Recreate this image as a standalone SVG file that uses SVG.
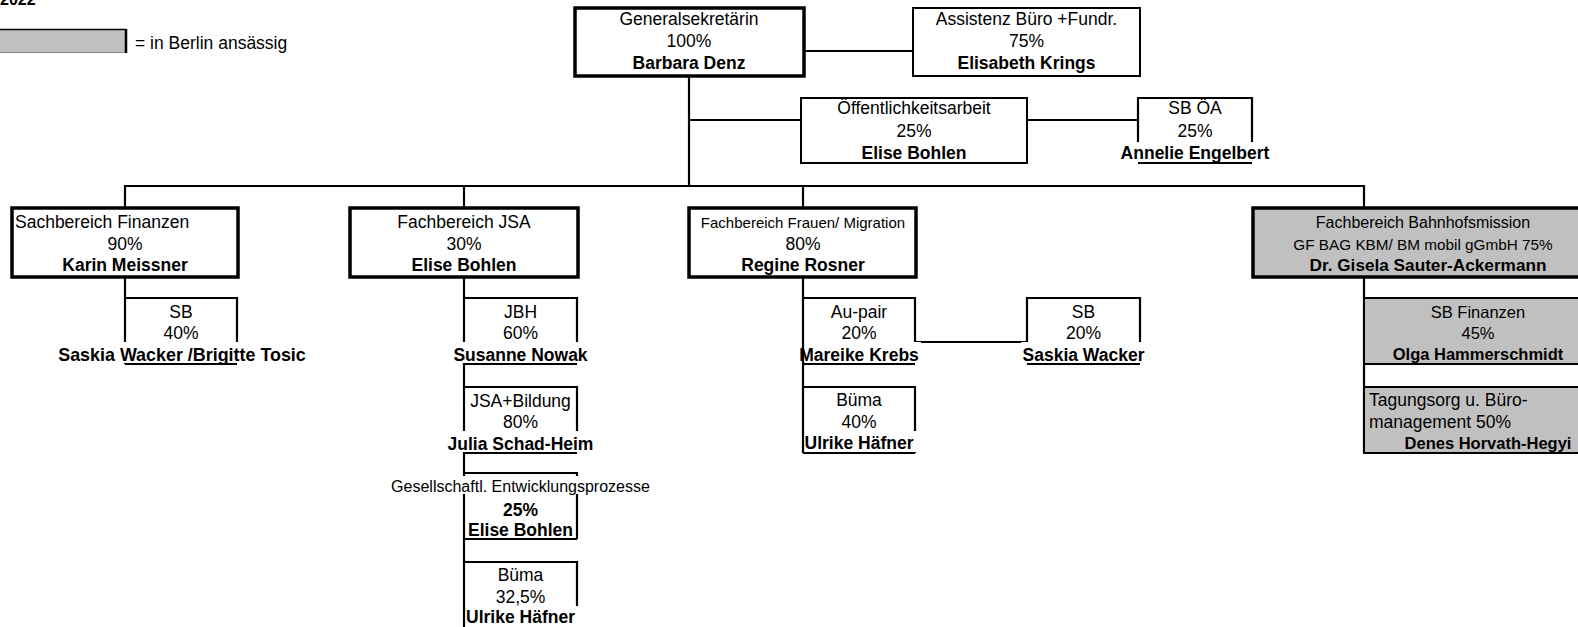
<svg xmlns="http://www.w3.org/2000/svg" width="1578" height="627" viewBox="0 0 1578 627">
<style>
.t{font-family:"Liberation Sans",Arial,sans-serif;font-size:17.5px;fill:#000;text-anchor:middle}
.l{text-anchor:start}
.b{font-weight:bold}
.s16{font-size:16px}
.s15{font-size:15px}
.g{font-size:16.5px}
.thick{fill:#fff;stroke:#000;stroke-width:3.5}
.gthick{fill:#c0c0c0;stroke:#000;stroke-width:3.5}
.gthin{fill:#c0c0c0;stroke:#000;stroke-width:2}
.thin{fill:#fff;stroke:#000;stroke-width:2}
.ln{fill:none;stroke:#000;stroke-width:2.2}
.bg{fill:#fff}
</style>
<rect width="1578" height="627" fill="#fff"/>
<g id="legend">
<text class="t l b s16" x="0" y="5">2022</text>
<rect x="-2" y="29.5" width="128" height="23" fill="#c0c0c0"/>
<path d="M-2,29.5 H126" stroke="#000" stroke-width="1.5"/>
<path d="M-2,52.5 H126" stroke="#8a8a8a" stroke-width="1"/>
<path d="M126,29 V53" stroke="#000" stroke-width="2.5"/>
<text class="t l" x="135" y="49">= in Berlin ansässig</text>
</g>
<g id="connectors">
<path class="ln" d="M804,51 H913"/>
<path class="ln" d="M689,76 V186"/>
<path class="ln" d="M689,120 H801"/>
<path class="ln" d="M1027,120 H1138"/>
<path class="ln" d="M125,209 V186 H1364 V209"/>
<path class="ln" d="M464,186 V209"/>
<path class="ln" d="M803,186 V209"/>
<path class="ln" d="M125,277 V364"/>
<path class="ln" d="M464,277 V627"/>
<path class="ln" d="M803,277 V453"/>
<path class="ln" d="M1364,277 V453"/>
<path class="ln" d="M915,342 H1027"/>
</g>
<g id="n-general">
<rect class="thick" x="575" y="8" width="229" height="68"/>
<text class="t" x="689" y="25">Generalsekretärin</text>
<text class="t" x="689" y="47">100%</text>
<text class="t b" x="689" y="69">Barbara Denz</text>
</g>
<g id="n-assistenz">
<rect class="thin" x="913" y="8" width="227" height="68"/>
<text class="t" x="1026.5" y="25">Assistenz Büro +Fundr.</text>
<text class="t" x="1026.5" y="47">75%</text>
<text class="t b" x="1026.5" y="69">Elisabeth Krings</text>
</g>
<g id="n-oeff">
<rect class="thin" x="801" y="98" width="226" height="65"/>
<text class="t" x="914" y="114">Öffentlichkeitsarbeit</text>
<text class="t" x="914" y="136.5">25%</text>
<text class="t b" x="914" y="159">Elise Bohlen</text>
</g>
<g id="n-sboea">
<path class="ln" d="M1138,142 V98 H1252 V142 M1138,163 H1252" stroke-width="2"/>
<rect class="bg" x="1120" y="142" width="150" height="19.5"/>
<text class="t" x="1195" y="114">SB ÖA</text>
<text class="t" x="1195" y="136.5">25%</text>
<text class="t b" x="1195" y="159">Annelie Engelbert</text>
</g>
<g id="n-sachbereich">
<rect class="thick" x="12" y="208" width="226" height="69"/>
<text class="t l" x="15" y="228">Sachbereich Finanzen</text>
<text class="t" x="125" y="249.5">90%</text>
<text class="t b" x="125" y="271">Karin Meissner</text>
</g>
<g id="n-sb40">
<path class="ln" d="M125,298 H237 V342 M125,364 H237" stroke-width="2"/>
<rect class="bg" x="56" y="342" width="252" height="21"/>
<text class="t" x="181" y="318">SB</text>
<text class="t" x="181" y="339">40%</text>
<text class="t b" x="182" y="361" style="font-size:17.9px">Saskia Wacker /Brigitte Tosic</text>
</g>
<g id="n-jsa">
<rect class="thick" x="350" y="208" width="228" height="69"/>
<text class="t" x="464" y="228">Fachbereich JSA</text>
<text class="t" x="464" y="249.5">30%</text>
<text class="t b" x="464" y="271">Elise Bohlen</text>
</g>
<g id="n-jbh">
<path class="ln" d="M464,298 H577 V342 M464,364 H577" stroke-width="2"/>
<rect class="bg" x="452" y="342" width="137" height="21"/>
<text class="t" x="520.5" y="318">JBH</text>
<text class="t" x="520.5" y="339">60%</text>
<text class="t b" x="520.5" y="361">Susanne Nowak</text>
</g>
<g id="n-jsabildung">
<path class="ln" d="M464,387 H577 V431 M464,453 H577" stroke-width="2"/>
<rect class="bg" x="446" y="431" width="149" height="21"/>
<text class="t" x="520.5" y="407">JSA+Bildung</text>
<text class="t" x="520.5" y="428">80%</text>
<text class="t b" x="520.5" y="450">Julia Schad-Heim</text>
</g>
<g id="n-gesell">
<path class="ln" d="M464,473 H577 V539 M464,539 H577" stroke-width="2"/>
<rect class="bg" x="388" y="476" width="264" height="18"/>
<text class="t s16" x="520.5" y="492">Gesellschaftl. Entwicklungsprozesse</text>
<text class="t b" x="520.5" y="516">25%</text>
<text class="t b" x="520.5" y="536">Elise Bohlen</text>
</g>
<g id="n-buema32">
<path class="ln" d="M464,562 H577 V627" stroke-width="2"/>
<rect class="bg" x="466" y="606" width="113" height="21"/>
<text class="t" x="520.5" y="581">Büma</text>
<text class="t" x="520.5" y="603">32,5%</text>
<text class="t b" x="520.5" y="623">Ulrike Häfner</text>
</g>
<g id="n-frauen">
<rect class="thick" x="689" y="208" width="227" height="69"/>
<text class="t s15" x="803" y="227.5">Fachbereich Frauen/ Migration</text>
<text class="t" x="803" y="249.5">80%</text>
<text class="t b" x="803" y="271">Regine Rosner</text>
</g>
<g id="n-aupair">
<path class="ln" d="M803,298 H915 V342 M803,364 H915" stroke-width="2"/>
<rect class="bg" x="805" y="342" width="116" height="21"/>
<text class="t" x="859" y="318">Au-pair</text>
<text class="t" x="859" y="339">20%</text>
<text class="t b" x="859" y="361">Mareike Krebs</text>
</g>
<g id="n-sb20">
<path class="ln" d="M1027,342 V298 H1140 V342 M1027,364 H1140" stroke-width="2"/>
<rect class="bg" x="1021" y="342" width="125" height="21"/>
<text class="t" x="1083.5" y="318">SB</text>
<text class="t" x="1083.5" y="339">20%</text>
<text class="t b" x="1083.5" y="361">Saskia Wacker</text>
</g>
<g id="n-buema40">
<path class="ln" d="M803,387 H915 V453 M803,453 H915" stroke-width="2"/>
<rect class="bg" x="805" y="431" width="112" height="21"/>
<text class="t" x="859" y="406">Büma</text>
<text class="t" x="859" y="428">40%</text>
<text class="t b" x="859" y="449">Ulrike Häfner</text>
</g>
<g id="n-bahnhof">
<rect class="gthick" x="1253" y="208" width="345" height="69"/>
<text class="t s16" x="1423" y="228">Fachbereich Bahnhofsmission</text>
<text class="t" x="1423" y="249.5" style="font-size:15.3px">GF BAG KBM/ BM mobil gGmbH 75%</text>
<text class="t b" x="1428" y="271" style="font-size:17.2px">Dr. Gisela Sauter-Ackermann</text>
</g>
<g id="n-sbfinanzen">
<rect class="gthin" x="1364" y="298" width="240" height="66"/>
<text class="t g" x="1478" y="318">SB Finanzen</text>
<text class="t g" x="1478" y="339">45%</text>
<text class="t g b" x="1478" y="360">Olga Hammerschmidt</text>
</g>
<g id="n-tagung">
<rect class="gthin" x="1364" y="387" width="240" height="66"/>
<text class="t l" x="1369" y="406">Tagungsorg u. Büro-</text>
<text class="t l" x="1369" y="428">management 50%</text>
<text class="t g b" x="1488" y="449">Denes Horvath-Hegyi</text>
</g>
</svg>
